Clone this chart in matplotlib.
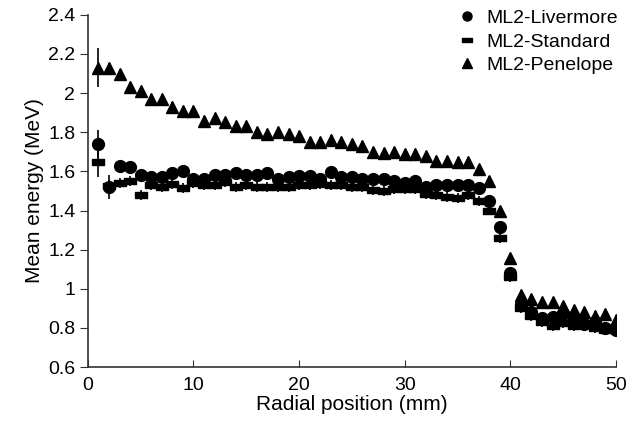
import numpy as np
import matplotlib
matplotlib.use("Agg")
import matplotlib.pyplot as plt

plt.rcParams['font.family'] = ['Liberation Sans', 'DejaVu Sans']

# Data (radial position 1..50 mm)
radial = np.arange(1, 51)

livermore = [1.74, 1.52, 1.63, 1.62, 1.58, 1.57, 1.57, 1.59, 1.60, 1.56,
             1.56, 1.58, 1.58, 1.59, 1.58, 1.58, 1.59, 1.56, 1.57, 1.575,
             1.575, 1.56, 1.595, 1.57, 1.57, 1.56, 1.56, 1.56, 1.55, 1.54,
             1.55, 1.52, 1.53, 1.53, 1.53, 1.53, 1.515, 1.45, 1.315, 1.08,
             0.92, 0.88, 0.85, 0.855, 0.87, 0.84, 0.82, 0.83, 0.80, 0.79]
livermore_err = [0.07, 0.06] + [0.025] * 48

standard = [1.65, 1.525, 1.54, 1.55, 1.48, 1.53, 1.52, 1.535, 1.515, 1.54,
            1.53, 1.53, 1.545, 1.52, 1.53, 1.52, 1.52, 1.52, 1.52, 1.53,
            1.53, 1.535, 1.53, 1.53, 1.52, 1.52, 1.505, 1.50, 1.51, 1.51,
            1.51, 1.485, 1.48, 1.47, 1.465, 1.48, 1.45, 1.40, 1.26, 1.06,
            0.90, 0.86, 0.83, 0.81, 0.825, 0.81, 0.815, 0.80, 0.79, 0.79]
standard_err = [0.08, 0.03] + [0.025] * 48

penelope = [2.13, 2.13, 2.10, 2.03, 2.01, 1.97, 1.97, 1.93, 1.91, 1.91,
            1.86, 1.875, 1.85, 1.83, 1.83, 1.80, 1.79, 1.80, 1.79, 1.78,
            1.75, 1.75, 1.76, 1.75, 1.74, 1.73, 1.70, 1.695, 1.70, 1.69,
            1.69, 1.68, 1.655, 1.655, 1.65, 1.65, 1.61, 1.55, 1.40, 1.16,
            0.97, 0.95, 0.935, 0.935, 0.91, 0.89, 0.88, 0.86, 0.87, 0.84]
penelope_err = [0.1] + [0.025] * 49

dash = [(-1, -0.5), (1, -0.5), (1, 0.5), (-1, 0.5), (-1, -0.5)]

fig = plt.figure(figsize=(6.41, 4.36), dpi=100)
ax = fig.add_axes([0.137, 0.158, 0.824, 0.808])

ax.errorbar(radial, livermore, yerr=livermore_err, fmt='o', color='black',
            ms=8.5, elinewidth=1.2, capsize=0, label='ML2-Livermore')
ax.errorbar(radial, standard, yerr=standard_err, fmt='none', ecolor='black',
            elinewidth=1.2, capsize=0)
ax.plot(radial, standard, linestyle='none', marker=dash, color='black',
        ms=8, label='ML2-Standard')
ax.errorbar(radial, penelope, yerr=penelope_err, fmt='^', color='black',
            ms=9, elinewidth=1.2, capsize=0, label='ML2-Penelope')

ax.set_xlim(0, 50)
ax.set_ylim(0.6, 2.4)
ax.set_xticks([0, 10, 20, 30, 40, 50])
ax.set_yticks([0.6, 0.8, 1.0, 1.2, 1.4, 1.6, 1.8, 2.0, 2.2, 2.4])
ax.set_yticklabels(['0.6', '0.8', '1', '1.2', '1.4', '1.6', '1.8', '2', '2.2', '2.4'])
ax.tick_params(axis='x', direction='in', length=5, labelsize=14, pad=7, color='#333333')
ax.tick_params(axis='y', direction='out', length=6, labelsize=14, pad=3, color='#333333')
for s in ['top', 'right']:
    ax.spines[s].set_visible(False)
for s in ['left', 'bottom']:
    ax.spines[s].set_color('#333333')
    ax.spines[s].set_linewidth(1.2)

ax.set_xlabel('Radial position (mm)', fontsize=15, labelpad=1)
ax.set_ylabel('Mean energy (MeV)', fontsize=15, labelpad=3)

handles = [
    plt.Line2D([], [], linestyle='none', marker='o', color='black', ms=6.5),
    plt.Line2D([], [], linestyle='none', marker=dash, color='black', ms=6.5),
    plt.Line2D([], [], linestyle='none', marker='^', color='black', ms=6.5),
]
ax.legend(handles, ['ML2-Livermore', 'ML2-Standard', 'ML2-Penelope'],
          loc='upper right', bbox_to_anchor=(630 / 641, 1.005),
          bbox_transform=fig.transFigure, frameon=False, borderpad=0.1,
          fontsize=14, handletextpad=0.4, labelspacing=0.3, handlelength=1.2)

fig.savefig('out.png', dpi=100)
